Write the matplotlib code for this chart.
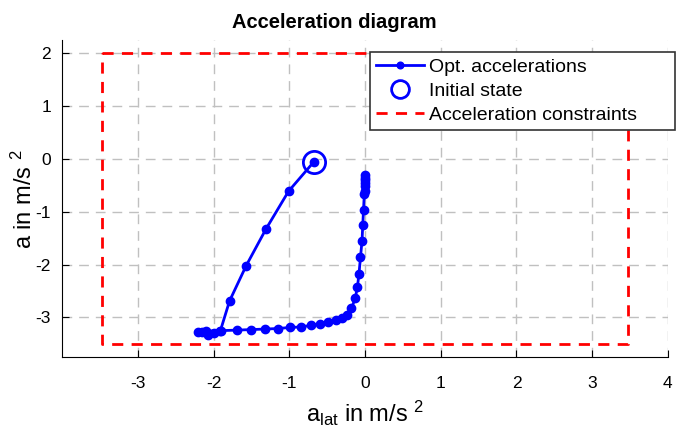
import matplotlib.pyplot as plt
import numpy as np

plt.rcParams["font.family"] = ["Liberation Sans", "DejaVu Sans"]
plt.rcParams["mathtext.fontset"] = "custom"
plt.rcParams["mathtext.rm"] = "Liberation Sans"
plt.rcParams["mathtext.it"] = "Liberation Sans"
plt.rcParams["axes.unicode_minus"] = False

# optimized acceleration trajectory (lateral, longitudinal) in m/s^2
a_lat = [-0.68, -1.01, -1.31, -1.57, -1.79, -1.91, -2.00, -2.08, -2.15, -2.21,
         -2.10, -1.90, -1.69, -1.50, -1.32, -1.15, -0.99, -0.85, -0.71, -0.60,
         -0.49, -0.39, -0.31, -0.24, -0.18, -0.13, -0.10, -0.08, -0.06, -0.04,
         -0.03, -0.02, -0.01, 0.00, 0.00, 0.00, 0.00, 0.00, 0.00]
a_lon = [-0.06, -0.61, -1.33, -2.02, -2.69, -3.25, -3.29, -3.33, -3.28, -3.27,
         -3.26, -3.25, -3.24, -3.23, -3.22, -3.21, -3.19, -3.18, -3.15, -3.12,
         -3.08, -3.05, -3.01, -2.96, -2.83, -2.64, -2.42, -2.17, -1.86, -1.55,
         -1.25, -0.96, -0.67, -0.61, -0.52, -0.46, -0.40, -0.36, -0.30]

init_lat = [-0.68]
init_lon = [-0.06]

# acceleration constraint box
box_lat = [-3.47, 3.47, 3.47, -3.47, -3.47]
box_lon = [2.0, 2.0, -3.5, -3.5, 2.0]

fig = plt.figure(figsize=(6.76, 4.37), dpi=100)
ax = fig.add_axes([0.092, 0.183, 0.896, 0.725])

ax.plot(a_lat, a_lon, "-o", color="blue", lw=2, ms=6, label="Opt. accelerations")
ax.plot(init_lat, init_lon, "o", color="blue", ms=16, mfc="none", mew=2,
        label="Initial state")
ax.plot(box_lat, box_lon, "--", color="red", lw=2, dashes=(4, 3),
        label="Acceleration constraints      ")

ax.set_xlim(-4, 4)
ax.set_ylim(-3.75, 2.25)
ax.set_xticks(np.arange(-3, 5, 1))
ax.set_yticks(np.arange(-3, 3, 1))
ax.grid(True, color="#c0c0c0", ls=(0, (7, 5)), lw=1)
ax.set_axisbelow(True)
ax.spines["top"].set_visible(False)
ax.spines["right"].set_visible(False)
ax.tick_params(direction="in", labelsize=12.5, length=5)
ax.tick_params(axis="x", pad=14)
ax.tick_params(axis="y", pad=8)

ax.set_title("Acceleration diagram", fontsize=14.5, fontweight="bold", x=0.45, pad=9)
ax.set_xlabel(r"a$_{\mathrm{lat}}$ in m/s $^{2}$", fontsize=17, labelpad=5)
ax.set_ylabel(r"a in m/s $^{2}$", fontsize=17, labelpad=-1)

leg = ax.legend(loc="upper right", bbox_to_anchor=(1.012, 0.962), fontsize=14,
                fancybox=False, edgecolor="#333333", framealpha=1,
                borderaxespad=0, handlelength=2.5, handletextpad=0.25,
                borderpad=0.3, labelspacing=0.33, markerscale=0.8)
leg.get_frame().set_linewidth(1.2)

fig.savefig("out.png", dpi=100)
